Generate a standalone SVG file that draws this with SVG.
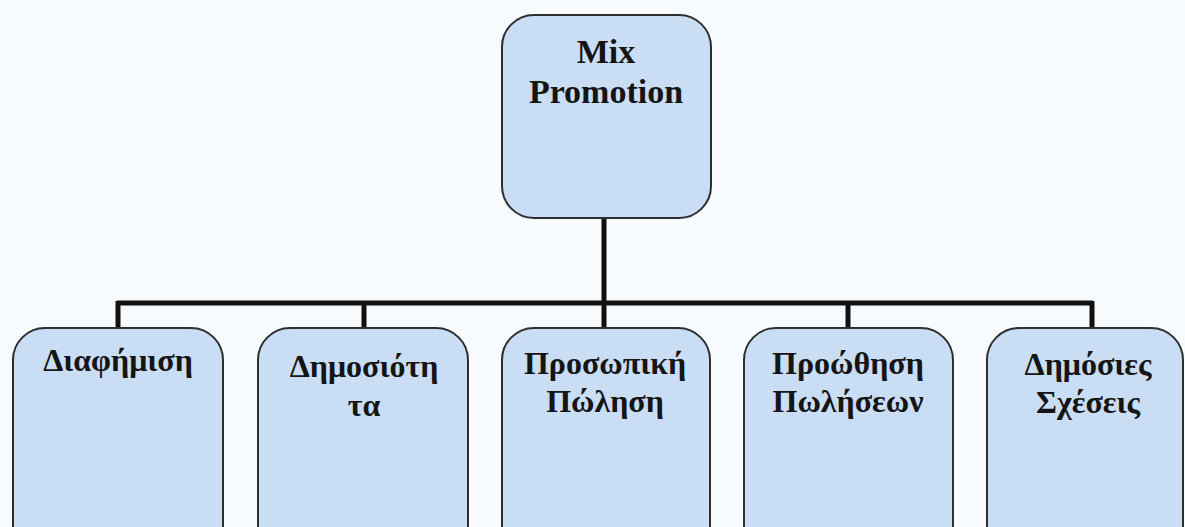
<svg xmlns="http://www.w3.org/2000/svg" width="1185" height="527" viewBox="0 0 1185 527">
<style>
.box{fill:#c9def4;stroke:#2e2e2e;stroke-width:2}
.t{font-family:"Liberation Serif","Times New Roman",serif;font-weight:bold;fill:#151515;text-anchor:middle}
.top{font-size:34px}
.sub{font-size:32px}
.con{stroke:#111;stroke-width:5;fill:none}
</style>
<rect width="1185" height="527" fill="#f8fbfd"/>
<g id="connectors">
<path class="con" d="M604 218V303M117 303H1093M118 301V328M364 301V328M604 301V328M848 301V328M1092 301V328"/>
</g>
<g id="n-mix">
<rect class="box" x="502" y="15" width="209" height="203" rx="32"/>
<text class="t top" x="606" y="63">Mix</text>
<text class="t top" x="606" y="103">Promotion</text>
</g>
<g id="n-diafimisi">
<rect class="box" x="13" y="328" width="210" height="230" rx="32"/>
<text class="t sub" x="118" y="371">Διαφήμιση</text>
</g>
<g id="n-dimosiotita">
<rect class="box" x="258" y="328" width="210" height="230" rx="32"/>
<text class="t sub" x="364" y="377">Δημοσιότη</text>
<text class="t sub" x="364" y="416">τα</text>
</g>
<g id="n-prosopiki">
<rect class="box" x="502" y="328" width="208" height="230" rx="32"/>
<text class="t sub" x="605" y="374">Προσωπική</text>
<text class="t sub" x="605" y="412">Πώληση</text>
</g>
<g id="n-proothisi">
<rect class="box" x="744" y="328" width="209" height="230" rx="32"/>
<text class="t sub" x="848" y="374">Προώθηση</text>
<text class="t sub" x="848" y="412">Πωλήσεων</text>
</g>
<g id="n-dimosies">
<rect class="box" x="987" y="328" width="196" height="230" rx="32"/>
<text class="t sub" x="1088" y="375">Δημόσιες</text>
<text class="t sub" x="1088" y="413">Σχέσεις</text>
</g>
</svg>
